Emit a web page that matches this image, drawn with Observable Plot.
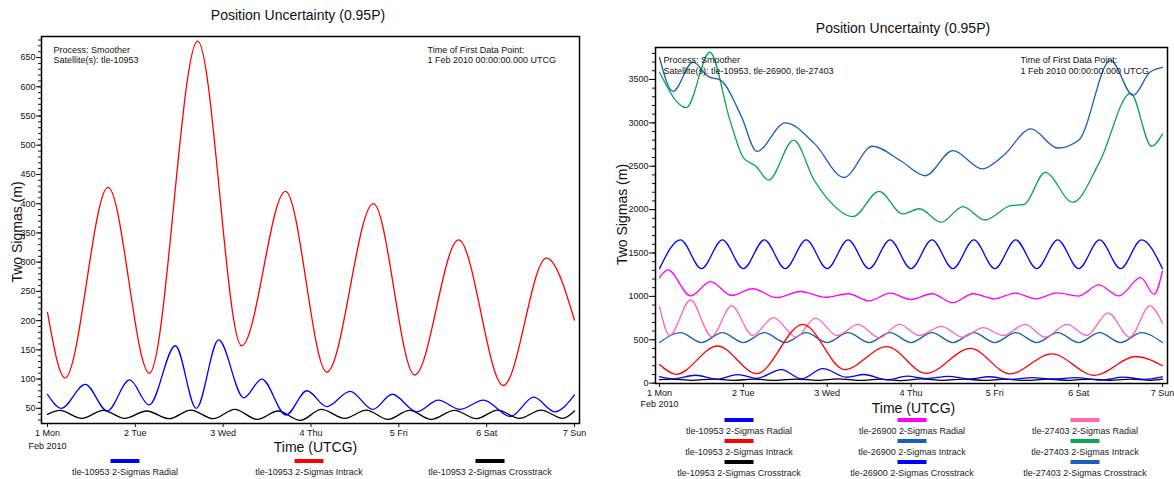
<!DOCTYPE html>
<html><head><meta charset="utf-8">
<script src="https://cdn.jsdelivr.net/npm/d3@7"></script>
<script src="https://cdn.jsdelivr.net/npm/@observablehq/plot@0.6"></script>
<style>
body{margin:0;background:#fff;font-family:"Liberation Sans",Arial,sans-serif;}
#wrap{position:relative;width:1174px;height:479px;overflow:hidden;background:#fff;}
.abs{position:absolute;white-space:nowrap;color:#111;}
.title{font-size:14px;transform:translate(-50%,-50%);}
.leg{position:absolute;transform:translate(-50%,-50%);text-align:center;font-size:9px;color:#222;white-space:nowrap;}
.bar{position:absolute;width:29px;height:4px;transform:translate(-50%,-50%);}
svg{position:absolute;top:0;}
</style></head>
<body><div id="wrap"></div>
<script>
// ---------- shared labels ----------
const title = "Position Uncertainty (0.95P)";
const dayTicks = [0, 1, 2, 3, 4, 5, 6];
const dayLabels = ["1 Mon", "2 Tue", "3 Wed", "4 Thu", "5 Fri", "6 Sat", "7 Sun"];
const yTicksLeft = [50, 100, 150, 200, 250, 300, 350, 400, 450, 500, 550, 600, 650];
const yTicksRight = [0, 500, 1000, 1500, 2000, 2500, 3000, 3500];

// ---------- tle-10953 (days since 1 Feb 2010, metres) ----------
const radial10953 = [[0,74],[0.156,50],[0.43,91],[0.68,45.5],[0.935,98.6],[1.157,55.7],[1.456,157],[1.694,50],[1.948,167],[2.235,68],[2.44,100],[2.715,38.5],[2.953,80],[3.179,53],[3.445,79],[3.704,48],[3.925,74],[4.204,44],[4.45,64],[4.696,48],[4.963,64],[5.27,36],[5.537,69],[5.775,44],[6,73]];
const intrack10953 = [[0,214],[0.2,102],[0.69,428],[1.16,110],[1.71,678],[2.21,157],[2.71,421],[3.18,112],[3.71,400],[4.18,107],[4.68,338],[5.19,89],[5.68,307],[6,201]];
const cross10953 = [[0,39.6],[0.14,46.5],[0.39,32.8],[0.636,46.5],[0.88,32.8],[1.128,45.4],[1.386,32.2],[1.632,47],[1.887,32.2],[2.133,48.2],[2.387,31],[2.625,45.4],[2.88,29.3],[3.117,48.2],[3.384,32.8],[3.63,47],[3.876,31],[4.122,46.5],[4.368,31],[4.635,46.5],[4.881,32.2],[5.127,47],[5.373,32.8],[5.62,47],[5.866,32.8],[6,45.4]];

// ---------- tle-26900 ----------
const radial26900 = [[0,1215],[0.1,1305],[0.37,1005],[0.61,1170],[0.86,1010],[1.11,1088],[1.4,985],[1.68,1056],[1.98,990],[2.25,1030],[2.5,948],[2.75,1037],[3.0,965],[3.25,1030],[3.5,928],[3.74,1030],[4.0,972],[4.24,1038],[4.49,972],[4.74,1040],[5.0,1004],[5.24,1132],[5.48,1005],[5.74,1215],[5.9,1025],[6,1290]];
const intrack26900 = [[0,3753],[0.16,3362],[0.4,3700],[0.58,3535],[0.73,3490],[0.98,3066],[1.16,2670],[1.5,3000],[1.85,2760],[2.2,2370],[2.54,2730],[2.88,2560],[3.17,2390],[3.5,2680],[3.85,2470],[4.1,2620],[4.43,2930],[4.75,2710],[5.0,2800],[5.38,3720],[5.65,3316],[5.85,3583],[6,3640]];
const cross26900 = [[0,1320],[0.25,1650],[0.5,1320],[0.75,1650],[1,1320],[1.25,1650],[1.5,1320],[1.75,1650],[2,1320],[2.25,1650],[2.5,1320],[2.75,1650],[3,1320],[3.25,1650],[3.5,1320],[3.75,1650],[4,1320],[4.25,1650],[4.5,1320],[4.75,1650],[5,1320],[5.25,1650],[5.5,1320],[5.75,1650],[6,1320]];

// ---------- tle-27403 ----------
const radial27403 = [[0,885],[0.12,550],[0.37,958],[0.62,537],[0.86,890],[1.11,549],[1.36,755],[1.63,530],[1.86,750],[2.12,549],[2.37,678],[2.62,522],[2.86,678],[3.1,549],[3.36,655],[3.62,530],[3.86,640],[4.1,549],[4.36,678],[4.6,530],[4.86,678],[5.1,549],[5.35,810],[5.61,530],[5.85,890],[6,690]];
const intrack27403 = [[0,3583],[0.32,3176],[0.6,3813],[0.84,3030],[1.0,2600],[1.15,2500],[1.3,2340],[1.6,2800],[1.85,2330],[2.0,2130],[2.31,1920],[2.62,2210],[2.9,1950],[3.1,2010],[3.36,1855],[3.62,2035],[3.88,1880],[4.19,2045],[4.35,2060],[4.6,2430],[4.93,2085],[5.25,2550],[5.62,3340],[5.87,2730],[6,2870]];
const cross27403 = [[0,468],[0.25,582],[0.5,468],[0.75,582],[1,468],[1.25,582],[1.5,468],[1.75,582],[2,468],[2.25,582],[2.5,468],[2.75,582],[3,468],[3.25,582],[3.5,468],[3.75,582],[4,468],[4.25,582],[4.5,468],[4.75,582],[5,468],[5.25,582],[5.5,468],[5.75,582],[6,468]];

// ---------- series meta ----------
const C = {blue:"#0000ff", red:"#ff0000", black:"#000000", magenta:"#ff00ff", steel:"#1a5fb8", pink:"#ff66b3", green:"#0ea552"};
const leftSeries = [
  {name:"tle-10953 2-Sigmas Radial", data:radial10953, color:C.blue},
  {name:"tle-10953 2-Sigmas Intrack", data:intrack10953, color:C.red},
  {name:"tle-10953 2-Sigmas Crosstrack", data:cross10953, color:C.black}
];
const rightSeries = [
  {name:"tle-10953 2-Sigmas Radial", data:radial10953, color:C.blue},
  {name:"tle-10953 2-Sigmas Intrack", data:intrack10953, color:C.red},
  {name:"tle-10953 2-Sigmas Crosstrack", data:cross10953, color:C.black},
  {name:"tle-26900 2-Sigmas Radial", data:radial26900, color:C.magenta},
  {name:"tle-26900 2-Sigmas Intrack", data:intrack26900, color:C.steel},
  {name:"tle-26900 2-Sigmas Crosstrack", data:cross26900, color:C.blue},
  {name:"tle-27403 2-Sigmas Radial", data:radial27403, color:C.pink},
  {name:"tle-27403 2-Sigmas Intrack", data:intrack27403, color:C.green},
  {name:"tle-27403 2-Sigmas Crosstrack", data:cross27403, color:C.steel}
];

const wrap = document.getElementById("wrap");
function addDiv(cls, text, x, y, extra) {
  const d = document.createElement("div");
  d.className = cls; d.textContent = text;
  d.style.left = x + "px"; d.style.top = y + "px";
  if (extra) Object.assign(d.style, extra);
  wrap.appendChild(d); return d;
}

function panel(o) {
  const lines = o.series.slice().reverse().map(s =>
    Plot.line(s.data, {x: d => d[0], y: d => d[1], stroke: s.color, strokeWidth: 1.3, curve: "monotone-x"}));
  const svg = Plot.plot({
    width: o.width, height: 479,
    marginLeft: o.ml, marginRight: o.mr, marginTop: o.mt, marginBottom: 479 - o.bottom,
    x: {domain: o.xdom},
    y: {domain: o.ydom},
    style: {fontFamily: "'Liberation Sans', Arial, sans-serif", fontSize: "9px", color: "#111", background: "transparent", overflow: "visible"},
    marks: [
      ...lines,
      Plot.frame({stroke: "#000", strokeWidth: 1.5}),
      Plot.axisY({ticks: o.minor, tickSize: 3, tickFormat: () => "", label: null}),
      Plot.axisY({ticks: o.yticks, tickSize: o.tickLen, tickPadding: 1, tickFormat: d => String(d), label: null}),
      Plot.axisX({ticks: dayTicks, tickSize: 4, tickPadding: 2, tickFormat: (d, i) => dayLabels[i], label: null}),
      Plot.text([{d: 0, t: "Feb 2010"}], {x: "d", text: "t", frameAnchor: "bottom", dy: o.febDy, lineAnchor: "middle"}),
      Plot.text(["Time (UTCG)"], {frameAnchor: "bottom", dy: o.timeDy, dx: o.timeDx, fontSize: 14, lineAnchor: "middle"}),
      Plot.text(["Two Sigmas (m)"], {frameAnchor: "left", dx: o.ylabDx, dy: o.ylabDy, rotate: -90, fontSize: 14, textAnchor: "middle", lineAnchor: "middle"}),
      Plot.text(["Process: Smoother"], {frameAnchor: "top-left", dx: o.annDx, dy: o.annDy1, textAnchor: "start", lineAnchor: "middle"}),
      Plot.text([o.sats], {frameAnchor: "top-left", dx: o.annDx, dy: o.annDy2, textAnchor: "start", lineAnchor: "middle"}),
      Plot.text(["Time of First Data Point:"], {frameAnchor: "top-right", dx: o.annRDx, dy: o.annDy1, textAnchor: "start", lineAnchor: "middle"}),
      Plot.text(["1 Feb 2010 00:00:00.000 UTCG"], {frameAnchor: "top-right", dx: o.annRDx, dy: o.annDy2, textAnchor: "start", lineAnchor: "middle"})
    ]
  });
  svg.style.left = o.left + "px";
  wrap.appendChild(svg);
}

panel({
  left: 0, width: 590, ml: 41, mr: 11, mt: 36, bottom: 423,
  xdom: [-0.068, 6.057], ydom: [24, 686],
  yticks: yTicksLeft, minor: d3.range(30, 686, 10), tickLen: 5,
  series: leftSeries, sats: "Satellite(s): tle-10953",
  febDy: 23, timeDy: 24, timeDx: 5, ylabDx: -24, ylabDy: 2,
  annDx: 12, annDy1: 14, annDy2: 24, annRDx: -152
});
panel({
  left: 590, width: 584, ml: 65, mr: 7, mt: 47, bottom: 383,
  xdom: [-0.048, 6.06], ydom: [-4, 3868],
  yticks: yTicksRight, minor: d3.range(0, 3868, 100), tickLen: 6,
  series: rightSeries, sats: "Satellite(s): tle-10953, tle-26900, tle-27403",
  febDy: 21, timeDy: 25, timeDx: 2, ylabDx: -33, ylabDy: -1,
  annDx: 8, annDy1: 13, annDy2: 24, annRDx: -147
});

// titles
addDiv("abs title", title, 298, 15);
addDiv("abs title", title, 903, 28);

// legends
function legend(x, yBar, s) {
  const b = document.createElement("div");
  b.className = "bar"; b.style.left = x + "px"; b.style.top = yBar + "px"; b.style.background = s.color;
  wrap.appendChild(b);
  addDiv("leg", s.name, x, yBar + 11);
}
const leftX = [125, 309, 490];
leftSeries.forEach((s, i) => legend(leftX[i], 461, s));
const rightX = [739, 912, 1085];
const rightY = [420, 441, 462];
rightSeries.forEach((s, i) => legend(rightX[Math.floor(i / 3)], rightY[i % 3], s));
</script></body></html>
